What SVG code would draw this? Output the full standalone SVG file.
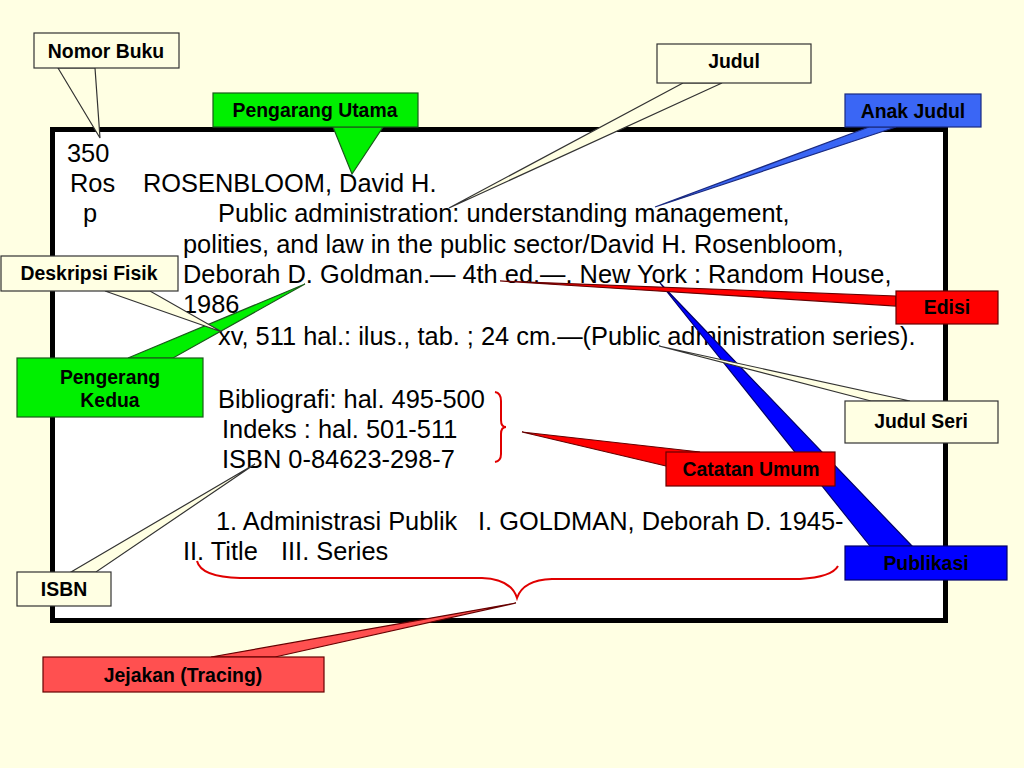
<svg xmlns="http://www.w3.org/2000/svg" width="1024" height="768" viewBox="0 0 1024 768">
<style>
.card{font-family:"Liberation Sans",Arial,sans-serif;font-size:25.4px;fill:#000}
.lbl{font-family:"Liberation Sans",Arial,sans-serif;font-size:19.4px;font-weight:bold;fill:#000;text-anchor:middle}
.cream{fill:#FFFFE3;stroke:#333;stroke-width:1.2}
.green{fill:#00F000;stroke:#1a5a1a;stroke-width:1.2}
.red{fill:#FF0000;stroke:#600;stroke-width:1.2}
.salmon{fill:#FF5050;stroke:#600;stroke-width:1.2}
.lblue{fill:#3A66F5;stroke:#1a2a80;stroke-width:1.2}
.blue{fill:#0000FF;stroke:#00006a;stroke-width:1.2}
.brace{fill:none;stroke:#E00000;stroke-width:2}
</style>
<rect x="0" y="0" width="1024" height="768" fill="#FFFFE3"/>
<rect id="card" x="52.5" y="129.5" width="893" height="491" fill="#FFFFFF" stroke="#000" stroke-width="5"/>
<g id="card-text" class="card">
<text x="67" y="162">350</text>
<text x="70" y="192">Ros</text>
<text x="143" y="192">ROSENBLOOM, David H.</text>
<text x="83" y="222">p</text>
<text x="218" y="222">Public administration: understanding management,</text>
<text x="183" y="253">polities, and law in the public sector/David H. Rosenbloom,</text>
<text x="183" y="283">Deborah D. Goldman.— 4th ed.—. New York : Random House,</text>
<text x="183" y="313">1986</text>
<text x="218" y="345">xv, 511 hal.: ilus., tab. ; 24 cm.—(Public administration series).</text>
<text x="218" y="408">Bibliografi: hal. 495-500</text>
<text x="222" y="438">Indeks : hal. 501-511</text>
<text x="222" y="468">ISBN 0-84623-298-7</text>
<text y="530"><tspan x="216">1. Administrasi Publik</tspan><tspan x="478">I. GOLDMAN, Deborah D. 1945-</tspan></text>
<text y="560"><tspan x="183">II. Title</tspan><tspan x="281">III. Series</tspan></text>
</g>
<g id="connectors">
<polygon class="blue" points="870,546 660,283 912,546"/>
<polygon class="cream" points="871,401 659,346 910,401"/>
<polygon class="red" points="896,296 500,281 896,306"/>
<polygon class="red" points="666,466 522,432 700,452"/>
<polygon class="lblue" points="869,127 655,207 896,127"/>
<polygon class="cream" points="683,83 449,208 722,83"/>
<polygon class="green" points="333,127 352,174 383,127"/>
<polygon class="cream" points="58,68 100,138 95,68"/>
<polygon class="green" points="128,358 305,284 173,358"/>
<polygon class="cream" points="105,291 222,332 150,291"/>
<polygon class="cream" points="71,572 255,464 96,572"/>
<polygon class="salmon" points="211,657 516,603 275,657"/>
<path class="brace" d="M495,392 Q501,393 501,401 V420 Q501,427 506,427 Q501,427 501,434 V454 Q501,461 495,462"/>
<path class="brace" d="M197,561 Q201,577 240,578 H482 Q511,579 517,598 Q523,580 552,579 H800 Q832,577 838,566"/>
</g>
<g id="nomor-buku"><rect class="cream" x="34" y="33" width="145" height="35"/><text class="lbl" x="106" y="58">Nomor Buku</text></g>
<g id="pengarang-utama"><rect class="green" x="213" y="93" width="205" height="34"/><text class="lbl" x="315" y="117">Pengarang Utama</text></g>
<g id="judul"><rect class="cream" x="657" y="44" width="154" height="39"/><text class="lbl" x="734" y="68">Judul</text></g>
<g id="anak-judul"><rect class="lblue" x="845" y="94" width="136" height="33"/><text class="lbl" x="913" y="118">Anak Judul</text></g>
<g id="deskripsi-fisik"><rect class="cream" x="1" y="256" width="177" height="35"/><text class="lbl" x="89" y="280">Deskripsi Fisik</text></g>
<g id="edisi"><rect class="red" x="896" y="291" width="102" height="33"/><text class="lbl" x="947" y="314">Edisi</text></g>
<g id="pengerang-kedua"><rect class="green" x="17" y="358" width="186" height="59"/><text class="lbl" x="110" y="384">Pengerang</text><text class="lbl" x="110" y="407">Kedua</text></g>
<g id="judul-seri"><rect class="cream" x="845" y="401" width="153" height="42"/><text class="lbl" x="921" y="428">Judul Seri</text></g>
<g id="catatan-umum"><rect class="red" x="666" y="452" width="169" height="34"/><text class="lbl" x="751" y="476">Catatan Umum</text></g>
<g id="publikasi"><rect class="blue" x="845" y="546" width="162" height="34"/><text class="lbl" x="926" y="570" fill="#000033">Publikasi</text></g>
<g id="isbn"><rect class="cream" x="17" y="572" width="94" height="34"/><text class="lbl" x="64" y="596">ISBN</text></g>
<g id="jejakan"><rect class="salmon" x="43" y="657" width="281" height="35"/><text class="lbl" x="183" y="682">Jejakan (Tracing)</text></g>
</svg>
